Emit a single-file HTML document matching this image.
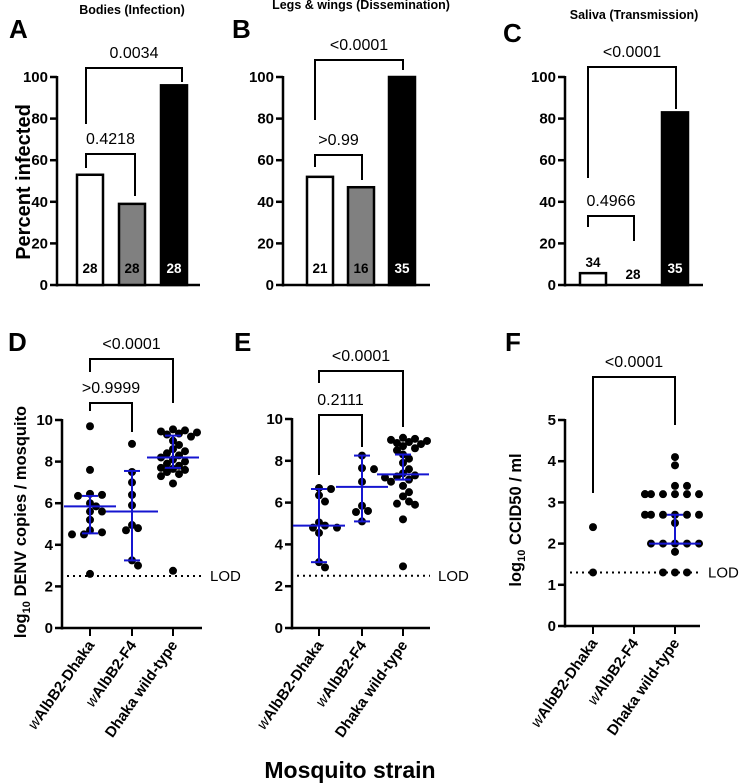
<!DOCTYPE html>
<html><head><meta charset="utf-8"><style>
html,body{margin:0;padding:0;background:#fff;}
svg{display:block;font-family:"Liberation Sans",Arial,sans-serif;}
</style></head><body>
<svg id="fig" width="743" height="783" viewBox="0 0 743 783" xmlns="http://www.w3.org/2000/svg"></svg>
<script>
// ---- data ----
const categories = ["wAlbB2-Dhaka","wAlbB2-F4","Dhaka wild-type"];
const bodiesPct = [53, 39, 96];
const bodiesN = [28, 28, 28];
const legsPct = [52, 47, 100];
const legsN = [21, 16, 35];
const salivaPct = [5.7, 0, 83];
const salivaN = [34, 28, 35];
const pctTicks = [0, 20, 40, 60, 80, 100];
const denvTicks = [0, 2, 4, 6, 8, 10];
const ccidTicks = [0, 1, 2, 3, 4, 5];
const bodyDots = [
  [9.7,7.6,6.45,6.4,6.35,6.0,5.85,5.6,5.6,5.2,4.7,4.6,4.5,4.5,2.6],
  [8.85,7.5,7.0,6.4,5.9,4.95,4.8,4.7,3.25,3.0],
  [9.55,9.5,9.45,9.4,9.35,9.3,9.2,9.0,8.8,8.6,8.5,8.4,8.3,8.2,8.1,8.0,7.9,7.8,7.7,7.65,7.6,7.5,7.4,7.3,6.95,2.75]
];
const bodyMed = [5.85, 5.6, 8.2];
const bodyLo = [4.55, 3.25, 7.7];
const bodyHi = [6.35, 7.55, 9.25];
const legDots = [
  [6.7,6.65,6.35,6.05,5.05,4.9,4.8,4.8,4.55,3.15,2.9],
  [8.25,7.65,7.6,7.0,5.85,5.6,5.55,5.1],
  [9.1,9.05,9.0,8.95,8.9,8.85,8.8,8.7,8.6,8.5,8.3,8.1,7.9,7.6,7.4,7.3,7.25,7.2,7.1,7.0,6.8,6.5,6.3,6.05,5.95,5.9,5.2,2.95]
];
const legMed = [4.9, 6.75, 7.35];
const legLo = [3.15, 5.1, 7.1];
const legHi = [6.65, 8.25, 8.3];
const salDots = [
  [2.4,1.3],
  [],
  [4.1,3.9,3.4,3.4,3.2,3.2,3.2,3.2,3.2,3.2,3.2,2.7,2.7,2.7,2.7,2.7,2.7,2.5,2.0,2.0,2.0,2.0,2.0,1.8,1.3,1.3,1.3]
];
const salMed = [null, null, 2.0];
const salLo = [null, null, 2.0];
const salHi = [null, null, 2.7];

// ---- helpers ----
const NS = "http://www.w3.org/2000/svg";
const svg = document.getElementById("fig");
function el(tag, attrs, parent, text){
  const e = document.createElementNS(NS, tag);
  for (const k in attrs) e.setAttribute(k, attrs[k]);
  if (text !== undefined) e.textContent = text;
  (parent || svg).appendChild(e);
  return e;
}
function line(x1,y1,x2,y2,stroke,w,parent,dash){
  const a = {x1,y1,x2,y2,stroke,"stroke-width":w};
  if (dash) a["stroke-dasharray"] = dash;
  return el("line", a, parent);
}
function txt(x,y,s,size,weight,anchor,fill,parent){
  return el("text",{x,y,"font-size":size,"font-weight":weight,"text-anchor":anchor,fill:fill||"#000"},parent,s);
}

function panel(cfg){
  const g = el("g", {});
  
  
  const y = v => cfg.y0 - (v - cfg.min) / (cfg.max - cfg.min) * (cfg.y0 - cfg.yTop);
  const x = i => cfg.xs[i];
  const ax = el("g", {}, g);
  
  
  line(cfg.ax, y(cfg.max)-1, cfg.ax, cfg.y0+1.5, "#000", 2.5, ax);
  cfg.ticks.forEach(t => {
    line(cfg.ax-7, y(t), cfg.ax, y(t), "#000", 2.5, ax);
    const tl = txt(cfg.ax-9, y(t)+5, String(t), 15, "bold", "end", "#000", ax);
    
    
  });
  const xa = el("g", {}, g);
  
  
  line(cfg.ax-1, cfg.y0, cfg.xEnd, cfg.y0, "#000", 2.5, xa);
  if (cfg.showXLabels){
    categories.forEach((c,i) => {
      line(x(i), cfg.y0, x(i), cfg.y0+8, "#000", 2, xa);
      const t = el("text", {transform:`translate(${x(i)+5},${cfg.y0+17}) rotate(-55)`, "font-size":15, "font-weight":"bold", "text-anchor":"end"}, xa);
      
      
      if (c[0] === "w"){
        el("tspan", {"font-style":"italic","font-weight":"normal"}, t, "w");
        el("tspan", {}, t, c.slice(1));
      } else t.textContent = c;
    });
  }
  if (cfg.bars){
    const fills = ["#fff", "#808080", "#000"];
    cfg.bars.forEach((v,i) => {
      const b = el("rect", {x:x(i)-13, y:y(v), width:26, height:Math.max(0, cfg.y0 - y(v)), fill:fills[i], stroke:"#000", "stroke-width":2.5}, g);
      
      
      const n = cfg.counts[i];
      const inside = cfg.y0 - y(v) > 30;
      const nt = txt(x(i), inside ? cfg.y0-12 : y(v)-6, String(n), 13.5, "bold", "middle", i===2 && inside ? "#fff" : "#000", g);
      
      
      if (v === 0) b.setAttribute("height", 0);
    });
  }
  if (cfg.dots){
    if (cfg.lod !== undefined){
      const l = line(cfg.ax+5, y(cfg.lod), cfg.xEnd, y(cfg.lod), "#000", 2, g, "2,4");
      
      
      const lt = txt(cfg.xEnd+8, y(cfg.lod)+5, "LOD", 15, "normal", "start", "#000", g);
      
      
    }
    cfg.dots.forEach((arr,i) => {
      const sorted = arr.slice().sort((a,b)=>b-a);
      const placed = [];
      sorted.forEach(v => {
        const py = y(v);
        let k = 0, px;
        const offs = [0, 6, -6, 12, -12, 18, -18, 24, -24, 30, -30];
        for (k=0;k<offs.length;k++){
          px = x(i) + offs[k];
          if (!placed.some(p => Math.hypot(p[0]-px, p[1]-py) < 6.5)) break;
        }
        placed.push([px,py]);
        const c = el("circle", {cx:px, cy:py, r:4, fill:"#000"}, g);
        
        
      });
      if (cfg.med[i] !== null){
        const eg = el("g", {}, g);
        
        
        line(x(i)-26, y(cfg.med[i]), x(i)+26, y(cfg.med[i]), "#1515d0", 2, eg);
        line(x(i), y(cfg.lo[i]), x(i), y(cfg.hi[i]), "#1515d0", 2, eg);
        line(x(i)-8, y(cfg.lo[i]), x(i)+8, y(cfg.lo[i]), "#1515d0", 2, eg);
        line(x(i)-8, y(cfg.hi[i]), x(i)+8, y(cfg.hi[i]), "#1515d0", 2, eg);
      }
    });
  }
  cfg.brackets.forEach(b => {
    const bg = el("g", {}, g);
    
    
    el("polyline", {points:`${b.x1},${b.l} ${b.x1},${b.y} ${b.x2},${b.y} ${b.x2},${b.r}`, fill:"none", stroke:"#000", "stroke-width":2}, bg);
    const t = txt((b.x1+b.x2)/2, b.y-10, b.label, 16, "normal", "middle", "#000", bg);
    
    
  });
  const L = txt(cfg.letter[1], cfg.letter[2], cfg.letter[0], 26, "bold", "start", "#000", g);
  
  
  if (cfg.title){
    const T = txt(cfg.title[1], cfg.title[2], cfg.title[0], 12.5, "bold", "middle", "#000", g);
    
    
  }
}

panel({name:"panel-a-bodies", min:0,max:100,y0:285,yTop:77,ax:57,xEnd:200,xs:[90,132,174],ticks:pctTicks,
  bars:bodiesPct,counts:bodiesN,letter:["A",9,38],title:["Bodies (Infection)",132,14],
  brackets:[{x1:86,x2:182,y:68,l:124,r:82,label:"0.0034"},{x1:86,x2:135,y:154,l:168,r:196,label:"0.4218"}]});
panel({name:"panel-b-legs-wings", min:0,max:100,y0:285,yTop:77,ax:283,xEnd:430,xs:[320,361,402],ticks:pctTicks,
  bars:legsPct,counts:legsN,letter:["B",232,38],title:["Legs & wings (Dissemination)",361,9],
  brackets:[{x1:315,x2:403,y:60,l:120,r:70,label:"<0.0001"},{x1:315,x2:362,y:155,l:167,r:180,label:">0.99"}]});
panel({name:"panel-c-saliva", min:0,max:100,y0:285,yTop:77,ax:565,xEnd:703,xs:[593,633,675],ticks:pctTicks,
  bars:salivaPct,counts:salivaN,letter:["C",503,42],title:["Saliva (Transmission)",634,19],
  brackets:[{x1:588,x2:676,y:67,l:178,r:109,label:"<0.0001"},{x1:588,x2:634,y:216,l:227,r:241,label:"0.4966"}]});
panel({name:"panel-d-bodies-titer", min:0,max:10,y0:628,yTop:420,ax:62,xEnd:202,xs:[90,132,173],ticks:denvTicks,
  dots:bodyDots,med:bodyMed,lo:bodyLo,hi:bodyHi,lod:2.5,showXLabels:true,letter:["D",8,351],
  brackets:[{x1:90,x2:173,y:359,l:372,r:403,label:"<0.0001"},{x1:90,x2:132,y:403,l:411,r:432,label:">0.9999"}]});
panel({name:"panel-e-legs-titer", min:0,max:10,y0:628,yTop:419,ax:292,xEnd:430,xs:[319,362,403],ticks:denvTicks,
  dots:legDots,med:legMed,lo:legLo,hi:legHi,lod:2.5,showXLabels:true,letter:["E",234,351],
  brackets:[{x1:319,x2:403,y:371,l:383,r:427,label:"<0.0001"},{x1:319,x2:362,y:415,l:475,r:447,label:"0.2111"}]});
panel({name:"panel-f-saliva-titer", min:0,max:5,y0:626,yTop:420,ax:565,xEnd:700,xs:[593,634,675],ticks:ccidTicks,
  dots:salDots,med:salMed,lo:salLo,hi:salHi,lod:1.3,showXLabels:true,letter:["F",505,351],
  brackets:[{x1:593,x2:675,y:377,l:493,r:425,label:"<0.0001"}]});

const ya = el("text", {transform:"translate(30,182) rotate(-90)","font-size":20,"font-weight":"bold","text-anchor":"middle"}, svg, "Percent infected");


const yd = el("text", {transform:"translate(26,522) rotate(-90)","font-size":16.5,"font-weight":"bold","text-anchor":"middle"});


el("tspan", {}, yd, "log");
el("tspan", {"font-size":11,dy:4}, yd, "10");
el("tspan", {dy:-4}, yd, " DENV copies / mosquito");
const yf = el("text", {transform:"translate(521,520) rotate(-90)","font-size":16.5,"font-weight":"bold","text-anchor":"middle"});


el("tspan", {}, yf, "log");
el("tspan", {"font-size":11,dy:4}, yf, "10");
el("tspan", {dy:-4}, yf, " CCID50 / ml");
const xt = txt(350, 778, "Mosquito strain", 23, "bold", "middle", "#000");


</script>
</body></html>
